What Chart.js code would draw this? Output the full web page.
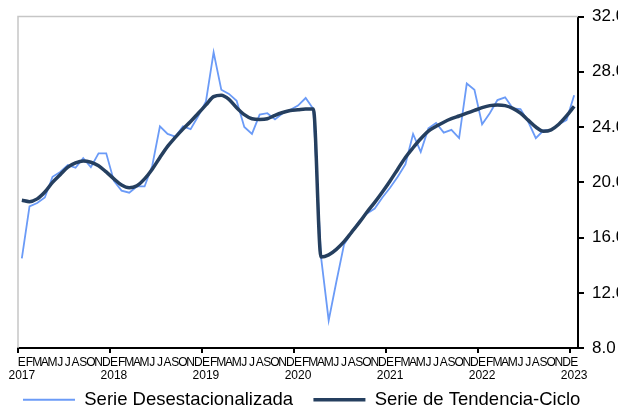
<!DOCTYPE html>
<html>
<head>
<meta charset="utf-8">
<script src="https://cdn.jsdelivr.net/npm/chart.js@4.4.1/dist/chart.umd.min.js"></script>
<style>
  html, body { margin: 0; padding: 0; background: #fff; overflow: hidden; }
</style>
</head>
<body>
<canvas id="grafico" width="618" height="406"></canvas>
<script>
// meses (E = enero ... D = diciembre) y años
const mesesLetras = ['E', 'F', 'M', 'A', 'M', 'J', 'J', 'A', 'S', 'O', 'N', 'D'];
const anios = ['2017', '2018', '2019', '2020', '2021', '2022', '2023'];

// ene-2017 ... ene-2023
const serieDesestacionalizada = [
  14.5, 18.25, 18.5, 18.9, 20.4, 20.75, 21.25, 21.05, 21.75, 21.1, 22.1, 22.1,
  20.1, 19.4, 19.25, 19.7, 19.7, 21.2, 24.05, 23.5, 23.3, 24.05, 23.85, 24.8,
  25.85, 29.4, 26.7, 26.4, 25.9, 24.0, 23.5, 24.9, 25.0, 24.55, 25.0, 25.25,
  25.55, 26.1, 25.3, 14.6, 10.0, 12.8, 15.5, 16.4, 17.2, 17.75, 18.1, 18.9,
  19.6, 20.4, 21.3, 23.5, 22.2, 23.9, 24.3, 23.6, 23.8, 23.2, 27.15, 26.7,
  24.2, 25.0, 25.95, 26.15, 25.35, 25.3, 24.4, 23.2, 23.75, 23.8, 24.2, 24.5,
  26.3
];

const serieTendenciaCiclo = [
  18.7, 18.6, 18.8, 19.3, 20.0, 20.55, 21.1, 21.4, 21.55, 21.45, 21.2, 20.75,
  20.25, 19.8, 19.6, 19.75, 20.25, 20.95, 21.8, 22.6, 23.25, 23.85, 24.4, 25.0,
  25.6, 26.2, 26.3, 26.0, 25.4, 24.9, 24.6, 24.55, 24.6, 24.85, 25.05, 25.2,
  25.25, 25.3, 25.3, 14.6, 14.75, 15.15, 15.7, 16.4, 17.1, 17.85, 18.55, 19.3,
  20.1, 20.95, 21.8, 22.5, 23.15, 23.7, 24.05, 24.35, 24.6, 24.8, 25.0, 25.2,
  25.4, 25.55, 25.6, 25.55, 25.35, 25.0, 24.5, 24.0, 23.7, 23.8, 24.2, 24.8,
  25.5
];

// etiquetas: letra del mes, y el año debajo de cada enero
const etiquetas = serieDesestacionalizada.map((_, i) => {
  const mes = mesesLetras[i % 12];
  return i % 12 === 0 ? [mes, anios[i / 12]] : mes;
});

// borde gris arriba e izquierda del area de trazado
const bordeGris = {
  id: 'bordeGris',
  beforeDatasetsDraw(chart) {
    const { ctx, chartArea: a } = chart;
    ctx.save();
    ctx.strokeStyle = '#c6c6c6';
    ctx.lineWidth = 1.5;
    ctx.beginPath();
    ctx.moveTo(a.left, a.bottom);
    ctx.lineTo(a.left, a.top);
    ctx.lineTo(a.right, a.top);
    ctx.stroke();
    ctx.restore();
  }
};

Chart.defaults.font.family = '"Liberation Sans", Arial, sans-serif';
Chart.defaults.color = '#000';

const generarEtiquetasLeyenda = Chart.defaults.plugins.legend.labels.generateLabels;

new Chart(document.getElementById('grafico'), {
  type: 'line',
  data: {
    labels: etiquetas,
    datasets: [
      {
        label: 'Serie Desestacionalizada',
        data: serieDesestacionalizada,
        borderColor: '#6b9bf7',
        borderWidth: 1.8,
        pointRadius: 0,
        tension: 0,
        order: 2
      },
      {
        label: 'Serie de Tendencia-Ciclo',
        data: serieTendenciaCiclo,
        borderColor: '#253f5f',
        borderWidth: 3.5,
        pointRadius: 0,
        cubicInterpolationMode: 'monotone',
        order: 1
      }
    ]
  },
  options: {
    responsive: false,
    animation: false,
    devicePixelRatio: 1,
    layout: { padding: { top: 14, left: 18, right: 0, bottom: -13 } },
    plugins: {
      tooltip: { enabled: false },
      legend: {
        position: 'bottom',
        align: 'start',
        labels: {
          usePointStyle: true,
          pointStyle: 'line',
          pointStyleWidth: 52,
          padding: 5,
          font: { size: 18.5 },
          color: '#000',
          sort: (a, b) => a.datasetIndex - b.datasetIndex,
          // un poco mas de aire entre las dos entradas
          generateLabels: (chart) => generarEtiquetasLeyenda(chart).map((l) =>
            l.datasetIndex === 0 ? { ...l, text: l.text + '   ' } : l)
        }
      }
    },
    scales: {
      x: {
        offset: true,
        border: { color: '#000', width: 2 },
        grid: {
          offset: true,
          drawOnChartArea: false,
          tickLength: 5,
          lineWidth: 2,
          color: (c) => (c.index % 12 === 0 ? '#000' : 'rgba(0,0,0,0)')
        },
        ticks: {
          autoSkip: false,
          maxRotation: 0,
          minRotation: 0,
          padding: 3,
          font: { size: 12, lineHeight: 1.1 },
          color: '#000'
        }
      },
      y: {
        position: 'right',
        min: 8,
        max: 32,
        afterFit: (scale) => { scale.width = 40; },
        border: { color: '#000', width: 2 },
        grid: {
          drawOnChartArea: false,
          tickLength: 6,
          lineWidth: 2,
          color: '#000'
        },
        ticks: {
          stepSize: 4,
          padding: 8,
          font: { size: 17, lineHeight: 1 },
          color: '#000',
          callback: (v) => v.toFixed(1)
        }
      }
    }
  },
  plugins: [bordeGris]
});
</script>
</body>
</html>
